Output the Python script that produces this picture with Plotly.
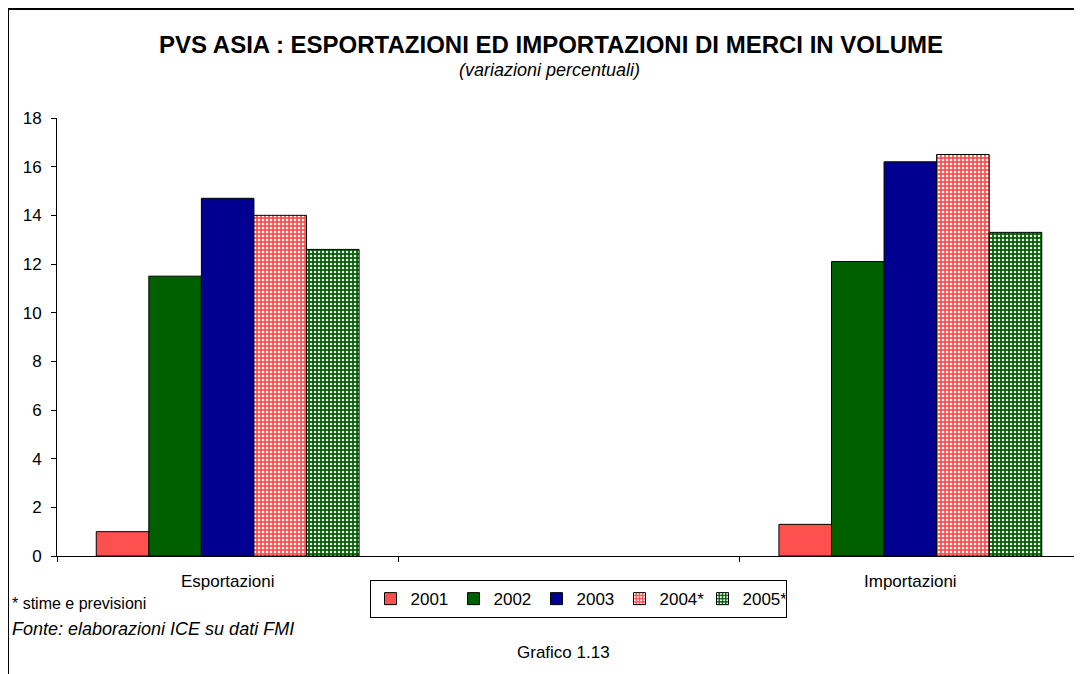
import plotly.graph_objects as go

categories = ["Esportazioni", " ", "Importazioni"]
years = ["2001", "2002", "2003", "2004*", "2005*"]
v2001 = [1.0, None, 1.3]
v2002 = [11.5, None, 12.1]
v2003 = [14.7, None, 16.2]
v2004 = [14.0, None, 16.5]
v2005 = [12.6, None, 13.3]
values = [v2001, v2002, v2003, v2004, v2005]

colors = ["#FF5050", "#006000", "#000090", "#FF5050", "#006000"]
patterned = [False, False, False, True, True]

fig = go.Figure()
for name, vals, col, pat in zip(years, values, colors, patterned):
    marker = dict(color=col, line=dict(color="black", width=1))
    if pat:
        marker["pattern"] = dict(shape=".", fgcolor="white", bgcolor=col,
                                 size=4, solidity=0.3, fillmode="replace")
    fig.add_trace(go.Bar(x=categories, y=vals, name=name, marker=marker))

# page body adds 8px offset, so margins are shifted by 8
fig.update_layout(
    width=1082, height=674,
    margin=dict(l=49, r=9, t=110, b=126),
    paper_bgcolor="white", plot_bgcolor="white",
    font=dict(family="Liberation Sans, Arial", size=17, color="black"),
    barmode="group", bargap=0.23, bargroupgap=0,
    showlegend=True,
    legend=dict(orientation="h", x=(578 - 57) / 1024, xanchor="center", y=-0.055, yanchor="top",
                bordercolor="black", borderwidth=1, font=dict(size=17),
                itemwidth=30, tracegroupgap=0, entrywidth=38),
    xaxis=dict(showline=True, linecolor="black", linewidth=1, ticks="outside",
               tickson="boundaries", ticklen=5, tickcolor="black",
               showgrid=False, tickfont=dict(size=17), ticklabelstandoff=10),
    yaxis=dict(range=[0, 18], dtick=2, showline=True, linecolor="black", linewidth=1,
               ticks="outside", ticklen=5, tickcolor="black", showgrid=False,
               zeroline=False, tickfont=dict(size=17), ticklabelstandoff=6),
)

# frame around the chart
fig.add_shape(type="rect", xref="paper", yref="paper",
              x0=-49 / 1024, x1=1.05, y0=-0.4, y1=1 + 109 / 438,
              line=dict(color="black", width=2), layer="below")

fig.add_annotation(text="<b>PVS ASIA : ESPORTAZIONI ED IMPORTAZIONI DI MERCI IN VOLUME</b>",
                   xref="paper", yref="paper", x=(551 - 57) / 1024, y=1 + (118 - 44) / 438,
                   showarrow=False, font=dict(size=24), yanchor="middle")
fig.add_annotation(text="<i>(variazioni percentuali)</i>",
                   xref="paper", yref="paper", x=(549 - 57) / 1024, y=1 + (118 - 70) / 438,
                   showarrow=False, font=dict(size=18), yanchor="middle")
fig.add_annotation(text="* stime e previsioni", xref="paper", yref="paper",
                   x=-47 / 1024, y=-(603 - 556) / 438, xanchor="left", yanchor="middle",
                   showarrow=False, font=dict(size=16))
fig.add_annotation(text="<i>Fonte: elaborazioni ICE su dati FMI</i>", xref="paper", yref="paper",
                   x=-47 / 1024, y=-(629 - 556) / 438, xanchor="left", yanchor="middle",
                   showarrow=False, font=dict(size=18))
fig.add_annotation(text="Grafico 1.13", xref="paper", yref="paper",
                   x=(563 - 57) / 1024, y=-(652 - 556) / 438, yanchor="middle",
                   showarrow=False, font=dict(size=17))

fig.write_html("out.html")
